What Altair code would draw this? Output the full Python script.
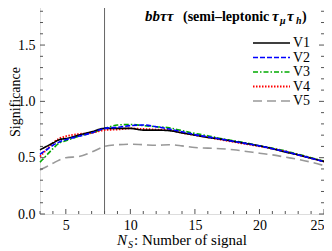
import altair as alt
import pandas as pd

# ---- data ----
ns = [3, 3.5, 4, 4.5, 5, 6, 7, 8, 9, 10, 11, 12, 13, 14, 15, 16, 17, 18, 19, 20, 21, 22, 23, 24, 25]
v1 = [0.57, 0.60, 0.63, 0.66, 0.67, 0.70, 0.73, 0.76, 0.76, 0.76, 0.745, 0.745, 0.74, 0.72, 0.70, 0.68, 0.665, 0.645, 0.625, 0.605, 0.58, 0.55, 0.525, 0.495, 0.465]
v2 = [0.53, 0.57, 0.61, 0.64, 0.66, 0.69, 0.72, 0.76, 0.77, 0.785, 0.79, 0.775, 0.755, 0.73, 0.705, 0.685, 0.665, 0.645, 0.625, 0.605, 0.58, 0.555, 0.525, 0.495, 0.465]
v3 = [0.46, 0.52, 0.58, 0.63, 0.65, 0.69, 0.72, 0.76, 0.79, 0.795, 0.785, 0.775, 0.765, 0.74, 0.715, 0.695, 0.67, 0.65, 0.63, 0.605, 0.585, 0.56, 0.53, 0.50, 0.47]
v4 = [0.51, 0.57, 0.63, 0.67, 0.69, 0.71, 0.72, 0.745, 0.75, 0.76, 0.755, 0.75, 0.745, 0.72, 0.70, 0.68, 0.66, 0.64, 0.62, 0.60, 0.58, 0.555, 0.525, 0.495, 0.465]
v5 = [0.39, 0.42, 0.45, 0.48, 0.50, 0.51, 0.55, 0.60, 0.615, 0.62, 0.615, 0.61, 0.615, 0.605, 0.59, 0.585, 0.58, 0.57, 0.555, 0.54, 0.525, 0.505, 0.485, 0.46, 0.43]
series_names = ["V1", "V2", "V3", "V4", "V5"]
vline_x = [8]
x_major = [5, 10, 15, 20, 25]
x_minor = [3, 4, 6, 7, 8, 9, 11, 12, 13, 14, 16, 17, 18, 19, 21, 22, 23, 24]
y_major = [0.0, 0.5, 1.0, 1.5]
y_minor = [0.1, 0.2, 0.3, 0.4, 0.6, 0.7, 0.8, 0.9, 1.1, 1.2, 1.3, 1.4, 1.6, 1.7, 1.8]

# ---- styles ----
W, H = 284, 214
XDOM = [3, 25]
YDOM = [0, 1.9]
FONT = "Liberation Serif"
styles = {
    "V1": dict(color="#000000", dash=[1, 0], width=1.6),
    "V2": dict(color="#0000ff", dash=[5, 2], width=1.6),
    "V3": dict(color="#00aa00", dash=[5, 2, 1.5, 2], width=1.6),
    "V4": dict(color="#ff0000", dash=[1.5, 1.5], width=1.8),
    "V5": dict(color="#999999", dash=[9, 5], width=1.6),
}
values = {"V1": v1, "V2": v2, "V3": v3, "V4": v4, "V5": v5}

rows = []
for name in series_names:
    for x, y in zip(ns, values[name]):
        rows.append({"series": name, "ns": x, "sig": y})
df = pd.DataFrame(rows)

xs = alt.Scale(domain=XDOM, nice=False, zero=False)
ys = alt.Scale(domain=YDOM, nice=False, zero=False)

base = alt.Chart(df)

# axes (labels only)
axes = alt.Chart(pd.DataFrame({"ns": [3], "sig": [0]})).mark_point(opacity=0).encode(
    x=alt.X("ns:Q", scale=xs, axis=alt.Axis(values=x_major, title=None, ticks=False, domain=False,
                                           grid=False, labelFont=FONT, labelFontSize=14,
                                           labelColor="#000", labelPadding=4, labelFlush=True)),
    y=alt.Y("sig:Q", scale=ys, axis=alt.Axis(values=y_major, format=".1f", title=None, ticks=False,
                                            domain=False, grid=False, labelFont=FONT, labelFontSize=14,
                                            labelColor="#000", labelPadding=5)),
)

layers = [axes]

# vertical line
layers.append(alt.Chart(pd.DataFrame({"ns": vline_x})).mark_rule(color="#666666", strokeWidth=1).encode(
    x=alt.X("ns:Q", scale=xs), y=alt.value(0), y2=alt.value(H)))

# curves
for name in ["V5", "V3", "V4", "V1", "V2"]:
    st = styles[name]
    layers.append(base.transform_filter(alt.datum.series == name).mark_line(
        color=st["color"], strokeDash=st["dash"], strokeWidth=st["width"], interpolate="monotone"
    ).encode(x=alt.X("ns:Q", scale=xs), y=alt.Y("sig:Q", scale=ys)))

# frame ticks
tick_col = "#555555"
def xticks(vals, ln):
    d = pd.DataFrame({"ns": vals})
    return [
        alt.Chart(d).mark_rule(color=tick_col, strokeWidth=1).encode(
            x=alt.X("ns:Q", scale=xs), y=alt.value(H), y2=alt.value(H - ln)),
        alt.Chart(d).mark_rule(color=tick_col, strokeWidth=1).encode(
            x=alt.X("ns:Q", scale=xs), y=alt.value(0), y2=alt.value(ln)),
    ]
def yticks(vals, ln):
    d = pd.DataFrame({"sig": vals})
    return [
        alt.Chart(d).mark_rule(color=tick_col, strokeWidth=1).encode(
            y=alt.Y("sig:Q", scale=ys), x=alt.value(0), x2=alt.value(ln)),
        alt.Chart(d).mark_rule(color=tick_col, strokeWidth=1).encode(
            y=alt.Y("sig:Q", scale=ys), x=alt.value(W), x2=alt.value(W - ln)),
    ]
layers += xticks(x_major, 5) + xticks(x_minor, 3) + yticks(y_major, 5) + yticks(y_minor, 3)

# legend
leg_y = [43, 57.5, 72, 86.5, 101]
for name, ly in zip(series_names, leg_y):
    st = styles[name]
    d = pd.DataFrame({"label": [name]})
    layers.append(alt.Chart(d).mark_rule(color=st["color"], strokeDash=st["dash"], strokeWidth=st["width"]).encode(
        x=alt.value(213), x2=alt.value(250), y=alt.value(ly)))
    layers.append(alt.Chart(d).mark_text(font=FONT, fontSize=14, align="left", baseline="middle", color="#000").encode(
        x=alt.value(253), y=alt.value(ly), text="label:N"))

# title pieces: (text, x, y, size, weight, style)
title_parts = [
    ("bb\u03c4\u03c4", 105, 21, 15, "bold", "italic"),
    ("(semi\u2013leptonic", 143, 21, 14, "bold", "normal"),
    ("\u03c4", 232, 21, 15, "bold", "italic"),
    ("\u03bc", 240, 24, 10, "bold", "italic"),
    ("\u03c4", 247, 21, 15, "bold", "italic"),
    ("h", 256, 24, 10, "bold", "italic"),
    (")", 262, 21, 14, "bold", "normal"),
]
for t, tx, ty, fs, fw, fst in title_parts:
    layers.append(alt.Chart(pd.DataFrame({"t": [t]})).mark_text(
        font=FONT, fontSize=fs, fontWeight=fw, fontStyle=fst, align="left", baseline="alphabetic", color="#000"
    ).encode(x=alt.value(tx), y=alt.value(ty), text="t:N"))

# axis titles
xt_parts = [
    ("N", 77, 245, 15, "italic"),
    ("S", 88, 248, 10, "italic"),
    (": Number of signal", 94, 245, 15, "normal"),
]
for t, tx, ty, fs, fst in xt_parts:
    layers.append(alt.Chart(pd.DataFrame({"t": [t]})).mark_text(
        font=FONT, fontSize=fs, fontStyle=fst, align="left", baseline="alphabetic", color="#000"
    ).encode(x=alt.value(tx), y=alt.value(ty), text="t:N"))

layers.append(alt.Chart(pd.DataFrame({"t": ["Significance"]})).mark_text(
    font=FONT, fontSize=14, angle=270, align="center", baseline="middle", color="#000"
).encode(x=alt.value(-24), y=alt.value(102), text="t:N"))

chart = alt.layer(*layers).properties(
    width=W, height=H,
    autosize=alt.AutoSizeParams(type="none"),
    padding={"left": 32, "top": -8, "right": 0, "bottom": 36},
).configure_view(stroke="#555555", strokeWidth=1).configure(background="white")

chart.save("out.html", embed_options={"renderer": "svg", "actions": False})
